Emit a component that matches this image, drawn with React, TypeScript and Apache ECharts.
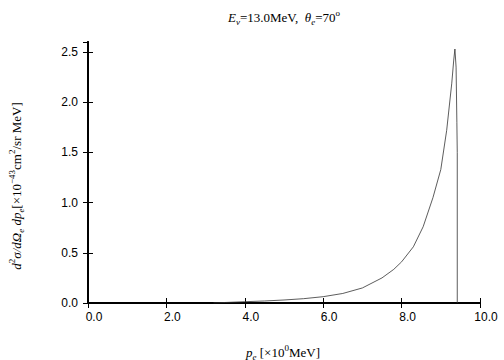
import React, { useEffect, useRef } from "react";
import * as echarts from "echarts";

const pe = [3.2, 3.5, 4.0, 4.5, 5.0, 5.5, 6.0, 6.5, 7.0, 7.5, 7.8, 8.0, 8.3, 8.55, 8.8, 9.0, 9.15, 9.28, 9.33, 9.36, 9.39, 9.41, 9.42, 9.42];
const sigma = [0.0, 0.005, 0.013, 0.02, 0.03, 0.043, 0.063, 0.095, 0.15, 0.25, 0.335, 0.41, 0.56, 0.76, 1.05, 1.33, 1.72, 2.19, 2.42, 2.53, 2.35, 1.8, 1.5, 0.0];
const xTicks = [0, 2, 4, 6, 8, 10];
const yTicks = [0, 0.5, 1.0, 1.5, 2.0, 2.5];

const serif = "'Liberation Serif', 'Times New Roman', serif";
const sans = "'Liberation Sans', Arial, sans-serif";

const rich = {
  n: { fontSize: 13, fontFamily: serif, color: "#000", lineHeight: 18, verticalAlign: "middle" },
  i: { fontSize: 13, fontFamily: serif, fontStyle: "italic", color: "#000", lineHeight: 18, verticalAlign: "middle" },
  sup: { fontSize: 9, fontFamily: serif, color: "#000", lineHeight: 9, verticalAlign: "top" },
  sub: { fontSize: 9, fontFamily: serif, fontStyle: "italic", color: "#000", lineHeight: 9, verticalAlign: "bottom" },
};

export default function App() {
  const ref = useRef<HTMLDivElement>(null);
  useEffect(() => {
    if (!ref.current) return;
    const chart = echarts.init(ref.current, null, { renderer: "svg" });
    const data = pe.map((x, k) => [x, sigma[k]]);
    const axisLine = { show: true, lineStyle: { color: "#000", width: 2 } };
    chart.setOption({
      animation: false,
      backgroundColor: "#fff",
      grid: { left: 88, right: 24, top: 42, bottom: 57 },
      xAxis: [
        {
          type: "value", min: 0, max: 10, interval: 2, position: "bottom",
          axisLine, splitLine: { show: false },
          axisTick: { show: true, inside: true, length: 5, lineStyle: { color: "#000", width: 1 } },
          axisLabel: { color: "#000", fontSize: 12, fontFamily: sans, margin: 8, padding: [0, 0, 0, 12], formatter: (v: number) => (xTicks.includes(v) ? v.toFixed(1) : "") },
        },
        {
          type: "value", min: 0, max: 10, interval: 2, position: "top",
          axisLine, splitLine: { show: false },
          axisTick: { show: true, inside: true, length: 5, lineStyle: { color: "#000", width: 1 } },
          axisLabel: { show: false },
        },
      ],
      yAxis: [
        {
          type: "value", min: 0, max: 2.6, interval: 0.5, position: "left",
          axisLine, splitLine: { show: false },
          axisTick: { show: true, inside: true, length: 5, lineStyle: { color: "#000", width: 1 } },
          axisLabel: { color: "#000", fontSize: 12, fontFamily: sans, margin: 10, showMaxLabel: false, formatter: (v: number) => (yTicks.some((t) => Math.abs(t - v) < 1e-9) ? v.toFixed(1) : "") },
        },
        {
          type: "value", min: 0, max: 2.6, interval: 0.5, position: "right",
          axisLine, splitLine: { show: false },
          axisTick: { show: true, inside: true, length: 5, lineStyle: { color: "#000", width: 1 } },
          axisLabel: { show: false },
        },
      ],
      series: [
        {
          type: "line", data, showSymbol: false, smooth: false,
          lineStyle: { color: "#333", width: 0.8 },
        },
      ],
      graphic: [
        {
          type: "text", x: 284, y: 17,
          style: {
            text: "{i|E}{sub|ν}{n|=13.0MeV,  }{i|θ}{sub|e}{n|=70}{sup|o}",
            rich, align: "center", verticalAlign: "middle",
          },
        },
        {
          type: "text", x: 283, y: 352,
          style: {
            text: "{i|p}{sub|e}{n| [×10}{sup|0}{n|MeV]}",
            rich, align: "center", verticalAlign: "middle",
          },
        },
        {
          type: "text", x: 16, y: 186, rotation: Math.PI / 2,
          style: {
            text: "{i|d}{sup|2}{i|σ/dΩ}{sub|e}{i| dp}{sub|e}{n|[×10}{sup|−43}{n|cm}{sup|2}{n|/sr MeV]}",
            rich, align: "center", verticalAlign: "middle",
          },
        },
      ],
    });
    return () => chart.dispose();
  }, []);
  return <div ref={ref} style={{ width: 504, height: 360, position: "absolute", left: 0, top: 0 }} />;
}
